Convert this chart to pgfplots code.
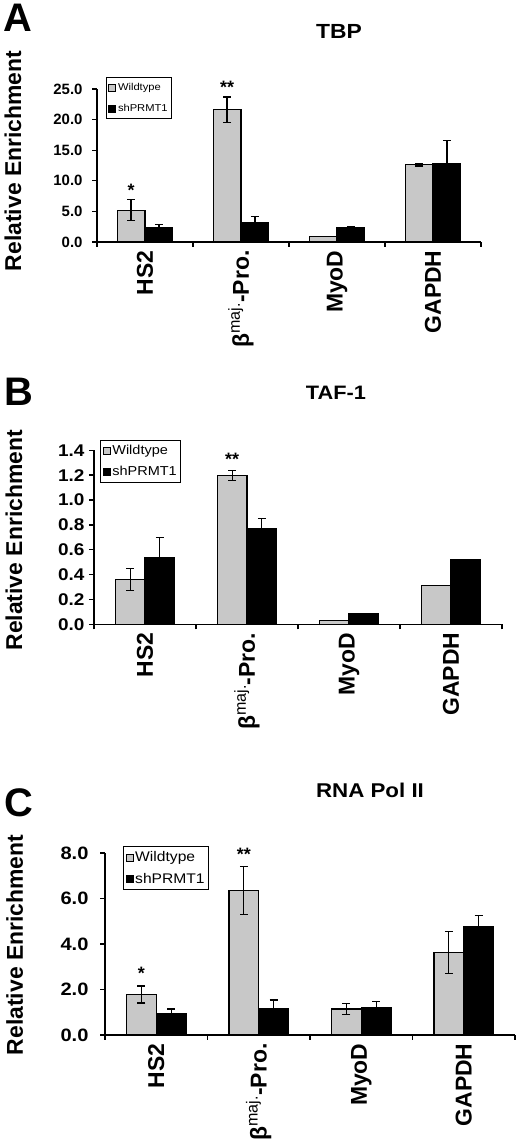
\documentclass[border=0pt]{standalone}
\usepackage{pgfplots}
\pgfplotsset{compat=1.18}
\usepackage{pgfplotstable}
\usepackage{fontspec}
\setmainfont{Liberation Sans}
\newfontfamily\widefont[FakeStretch=1.12]{Liberation Sans}
\definecolor{wtgray}{RGB}{200,200,200}

\pgfplotstableread{
x wt wte sh she
0 5.2 1.7 2.3 0.6
1 21.6 2.1 3.1 1.1
2 0.9 0.0 2.35 0.2
3 12.6 0.2 12.8 3.8
}\dataA
\pgfplotstableread{
x wt wte sh she
0 0.36 0.09 0.54 0.16
1 1.20 0.04 0.77 0.08
2 0.03 0.0 0.085 0.0
3 0.31 0.0 0.52 0.0
}\dataB
\pgfplotstableread{
x wt wte sh she
0 1.78 0.37 0.95 0.19
1 6.36 1.06 1.16 0.38
2 1.14 0.25 1.22 0.25
3 3.64 0.92 4.76 0.51
}\dataC

\pgfplotsset{
  chipstyle/.style={
    scale only axis,
    xmin=-0.5, xmax=3.5, ymin=0,
    axis x line*=bottom, axis y line*=left,
    axis line style={line width=1.3bp, black},
    tick align=outside,
    major tick length=5bp,
    tick style={black, line width=1.3bp},
    xtick={-0.5,0.5,1.5,2.5,3.5},
    x tick label as interval,
    xticklabels={HS2,{β\textsuperscript{\mdseries maj.}-Pro.},MyoD,GAPDH},
    xticklabel style={rotate=90, anchor=east, font=\bfseries\fontsize{23}{23}\selectfont},
    yticklabel style={/pgf/number format/fixed, /pgf/number format/fixed zerofill, /pgf/number format/precision=1, /pgf/number format/assume math mode=true},
    ylabel={Relative Enrichment},
    ylabel style={font=\bfseries\fontsize{23}{23}\selectfont, anchor=center},
    legend cell align=left,
    legend image code/.code={\draw[##1, line width=0.7bp] (0bp,-3.5bp) rectangle (7bp,3.5bp);},
    clip=false,
  },
  errstyle/.style={error bars/.cd, y dir=both, y explicit, error bar style={line width=1.2bp, black},
     error mark options={rotate=90, black, mark size=4bp, line width=1.2bp}},
  wtbar/.style={ybar, bar width=0.29, bar shift=0pt, fill=wtgray, draw=black, line width=1.2bp, errstyle},
  shbar/.style={ybar, bar width=0.29, bar shift=0pt, fill=black, draw=black, line width=1.2bp, errstyle},
}

\begin{document}
\begin{tikzpicture}[x=1bp,y=1bp]
\useasboundingbox (0,0) rectangle (520,1148);

% ---------------- Panel A ----------------
\node[font=\bfseries\fontsize{40}{40}\selectfont] at (18,1130) {A};
\node[font=\widefont\bfseries\fontsize{20.5}{20.5}\selectfont] at (339,1117) {TBP};
\begin{axis}[chipstyle,
  at={(97bp,906bp)}, anchor=south west,
  width=384bp, height=153bp,
  ymax=25, ytick={0,5,10,15,20,25},
  yticklabel style={font=\bfseries\fontsize{15}{15}\selectfont, xshift=-6bp},
  ylabel style={at={(axis description cs:-0.219,0.53)}},
  legend style={at={(axis description cs:0.023,1.078)}, anchor=north west, draw=black, line width=1bp,
    font=\widefont\fontsize{10}{10}\selectfont, inner xsep=2bp, inner ysep=4bp, row sep=8bp},
]
\addplot[wtbar] table[x expr=\thisrow{x}-0.145, y=wt, y error=wte] {\dataA};
\addplot[shbar] table[x expr=\thisrow{x}+0.145, y=sh, y error=she] {\dataA};
\legend{Wildtype, shPRMT1}
\node[font=\bfseries\fontsize{18}{18}\selectfont, anchor=base] at (axis cs:-0.145,7.35) {*};
\node[font=\bfseries\fontsize{18}{18}\selectfont, anchor=base] at (axis cs:0.855,24.3) {**};
\end{axis}

% ---------------- Panel B ----------------
\node[font=\bfseries\fontsize{40}{40}\selectfont] at (19,756) {B};
\node[font=\widefont\bfseries\fontsize{19.5}{19.5}\selectfont] at (336,755) {TAF-1};
\begin{axis}[chipstyle,
  at={(94bp,523.7bp)}, anchor=south west,
  width=408bp, height=174bp,
  ymax=1.4, ytick={0,0.2,0.4,0.6,0.8,1.0,1.2,1.4},
  yticklabel style={font=\widefont\bfseries\fontsize{17}{17}\selectfont, xshift=-1bp},
  ylabel style={at={(axis description cs:-0.196,0.483)}},
  legend style={at={(axis description cs:0.015,1.059)}, anchor=north west, draw=black, line width=1bp,
    font=\widefont\fontsize{13}{13}\selectfont, inner xsep=2bp, inner ysep=3bp, row sep=6bp},
]
\addplot[wtbar] table[x expr=\thisrow{x}-0.145, y=wt, y error=wte] {\dataB};
\addplot[shbar] table[x expr=\thisrow{x}+0.145, y=sh, y error=she] {\dataB};
\legend{Wildtype, shPRMT1}
\node[font=\bfseries\fontsize{18}{18}\selectfont, anchor=base] at (axis cs:0.855,1.274) {**};
\end{axis}

% ---------------- Panel C ----------------
\node[font=\bfseries\fontsize{40}{40}\selectfont] at (19,345) {C};
\node[font=\widefont\bfseries\fontsize{20}{20}\selectfont] at (370,358) {RNA Pol II};
\begin{axis}[chipstyle,
  at={(105bp,113bp)}, anchor=south west,
  width=410bp, height=182bp,
  ymax=8, ytick={0,2,4,6,8},
  yticklabel style={font=\widefont\bfseries\fontsize{18}{18}\selectfont, xshift=-8bp},
  ylabel style={at={(axis description cs:-0.22,0.495)}},
  legend style={at={(axis description cs:0.044,1.038)}, anchor=north west, draw=black, line width=1bp,
    font=\widefont\fontsize{14}{14}\selectfont, inner xsep=2bp, inner ysep=3bp, row sep=6bp},
]
\addplot[wtbar] table[x expr=\thisrow{x}-0.145, y=wt, y error=wte] {\dataC};
\addplot[shbar] table[x expr=\thisrow{x}+0.145, y=sh, y error=she] {\dataC};
\legend{Wildtype, shPRMT1}
\node[font=\bfseries\fontsize{18}{18}\selectfont, anchor=base] at (axis cs:-0.145,2.42) {*};
\node[font=\bfseries\fontsize{18}{18}\selectfont, anchor=base] at (axis cs:0.855,7.65) {**};
\end{axis}
\end{tikzpicture}
\end{document}
